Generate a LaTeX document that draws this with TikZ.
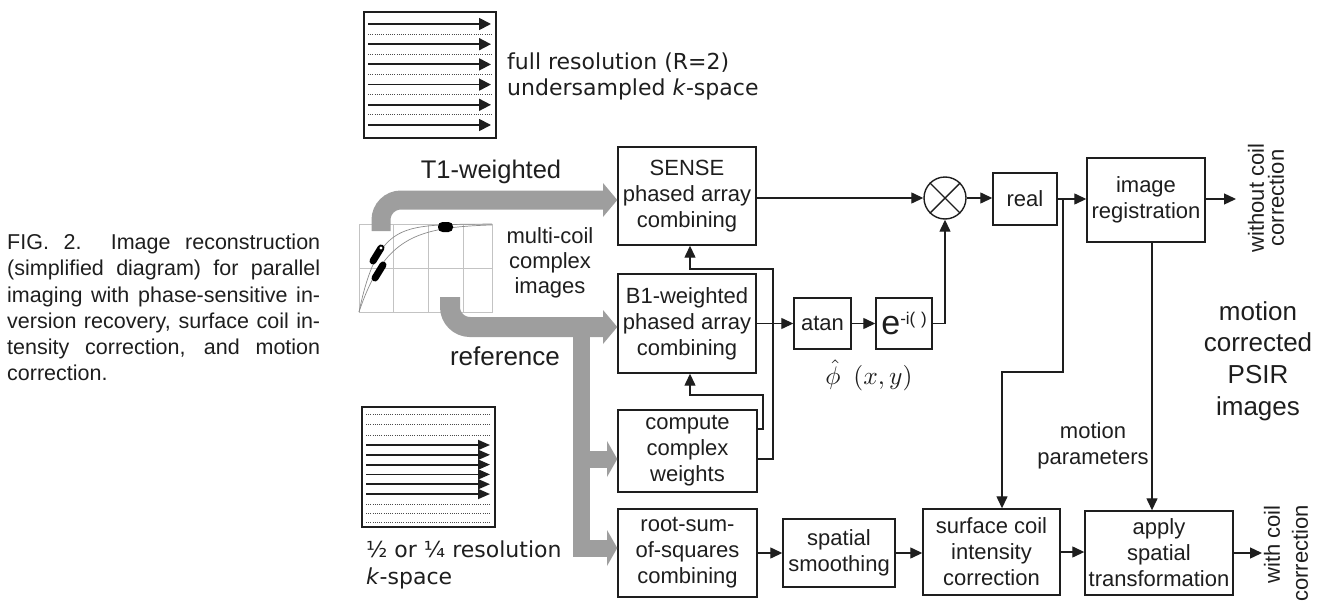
\documentclass[tikz,border=0pt]{standalone}
\usepackage{graphicx}
\usepackage{fontspec}
\setmainfont{Liberation Sans}
\newfontfamily\vfont{DejaVu Sans}
\usetikzlibrary{arrows.meta}
\definecolor{arrgray}{RGB}{158,158,158}
\definecolor{gridgray}{RGB}{195,195,195}
\definecolor{ink}{RGB}{30,30,30}
\begin{document}
\begin{tikzpicture}[x=1pt,y=-1pt,
  box/.style={draw=ink, line width=1.4pt, align=center, inner sep=0pt, text=ink, font=\fontsize{22}{26}\selectfont},
  conn/.style={draw=ink, line width=1.3pt, -{Triangle[length=12pt,width=11pt]}},
  lbl/.style={align=center, inner sep=0pt, text=ink, font=\fontsize{22}{25}\selectfont},
  kbox/.style={draw=ink, line width=1.8pt},
  karrow/.style={draw=ink, line width=1.8pt, -{Triangle[length=12pt,width=12pt]}},
  kdot/.style={draw=ink!80, line width=0.9pt, dash pattern=on 0.9pt off 1.3pt},
  grey/.style={draw=arrgray},
  greyhead/.style={fill=arrgray},
  capl/.style={anchor=base west, inner sep=0pt, text=ink, font=\fontsize{21.5}{26}\selectfont},
]
\useasboundingbox (0,0) rectangle (1331,602);

% caption
\node[capl] (cap1) at (7,249) {\makebox[313pt][s]{FIG. 2.\ \ Image reconstruction}};
\node[capl] (cap2) at (7,275) {\makebox[313pt][s]{(simplified diagram) for parallel}};
\node[capl] (cap3) at (7,302) {\makebox[313pt][s]{imaging with phase-sensitive in-}};
\node[capl] (cap4) at (7,328) {\makebox[313pt][s]{version recovery, surface coil in-}};
\node[capl] (cap5) at (7,354) {\makebox[313pt][s]{tensity correction, and motion}};
\node[capl] (cap6) at (7,380) {correction.};

% top k-space
\draw[kbox] (364,12) rectangle (496,138);
\foreach \k in {0,...,5} {
  \draw[karrow] (368,{24+20.2*\k}) -- (491,{24+20.2*\k});
}
\foreach \k in {0,...,4} {
  \draw[kdot] (368,{34.1+20.2*\k}) -- (492,{34.1+20.2*\k});
}
\node[anchor=west, align=left, inner sep=0pt, text=ink, font=\vfont\fontsize{22}{26}\selectfont] (kfull) at (507,76)
  {full resolution (R=2)\\undersampled \textit{k}-space};

% bottom k-space
\draw[kbox] (362,407) rectangle (495,527);
\foreach \yy in {414,424.5,435,504,513,522} {
  \draw[kdot] (366,\yy) -- (491,\yy);
}
\foreach \k in {0,...,5} {
  \draw[karrow, -{Triangle[length=12pt,width=10pt]}] (366,{445+9.8*\k}) -- (490,{445+9.8*\k});
}
\node[anchor=west, align=left, inner sep=0pt, text=ink, font=\vfont\fontsize{22}{27}\selectfont] (khalf) at (366,565)
  {½ or ¼ resolution\\\textit{k}-space};

% chart
\draw[gridgray, line width=0.8pt] (359,224) rectangle (492,312);
\foreach \xx in {393,428,463} { \draw[gridgray, line width=0.8pt] (\xx,224) -- (\xx,312); }
\draw[gridgray, line width=0.8pt] (359,268) -- (492,268);
\draw[black!45, line width=0.7pt] plot[domain=359:492, samples=70] (\x,{312-88*(1-exp(-(\x-359)/18.2))});
\draw[black!45, line width=0.7pt] plot[domain=359:492, samples=70] (\x,{312-88*(1-exp(-(\x-359)/29.3))});

% boxes
\node[box, minimum width=138pt, minimum height=98pt] (sense) at (687,196) {SENSE\\phased array\\combining};
\node[box, minimum width=138pt, minimum height=99pt] (b1) at (687,323.5) {B1-weighted\\phased array\\combining};
\node[box, minimum width=139pt, minimum height=82pt] (comp) at (687.5,451) {compute\\complex\\weights};
\node[box, minimum width=139pt, minimum height=88pt] (rss) at (687.5,553) {root-sum-\\of-squares\\combining};
\node[box, minimum width=112pt, minimum height=68pt] (smooth) at (839,553) {spatial\\smoothing};
\node[box, minimum width=137pt, minimum height=86pt] (surf) at (991.5,552) {surface coil\\intensity\\correction};
\node[box, minimum width=148pt, minimum height=84pt] (apply) at (1159,553) {apply\\spatial\\transformation};
\node[box, minimum width=64pt, minimum height=52pt] (real) at (1025,199) {real};
\node[box, minimum width=118pt, minimum height=84pt] (reg) at (1146,200) {image\\registration};
\node[box, minimum width=57pt, minimum height=51pt] (atan) at (822.5,323.5) {atan};
\node[box, minimum width=56pt, minimum height=51pt] (expo) at (904,323.5)
  {{\fontsize{34}{34}\selectfont e}\raisebox{10pt}{\fontsize{17}{17}\selectfont -i(\,\,)}};
\node[draw=ink, circle, line width=1.4pt, minimum size=42pt, inner sep=0pt] (mult) at (945,198) {};
\draw[ink, line width=1.4pt] (mult.north west) -- (mult.south east) (mult.north east) -- (mult.south west);

% gray thick arrows
\draw[grey, line width=19pt, rounded corners=20pt] (381,231) -- (381,200) -- (604,200);
\fill[greyhead] (603,183) -- (sense.west |- 0,200) -- (603,217) -- cycle;
\draw[grey, line width=20pt, rounded corners=20pt] (450,297) -- (450,327) -- (604,327);
\fill[greyhead] (603,310) -- (b1.west |- 0,327) -- (603,344) -- cycle;
\draw[grey, line width=17pt] (581,327) -- (581,548) -- (608,548);
\draw[grey, line width=17pt] (581,459) -- (608,459);
\fill[greyhead] (607,441) -- (comp.west |- 0,459) -- (607,477) -- cycle;
\fill[greyhead] (607,530) -- (rss.west |- 0,548) -- (607,566) -- cycle;

% blobs
\fill[black, rounded corners=4.5pt] (438,222) rectangle (453,232);
\draw[black, line width=7pt, line cap=round] (373,261) -- (381,248);
\fill[white] (381,248) circle (1.6pt);
\draw[black, line width=7pt, line cap=round] (375,278) -- (383,265);

% labels
\node[lbl, font=\fontsize{25.5}{28}\selectfont] (t1) at (491,172) {T1-weighted};
\node[lbl] (mc) at (550,263) {multi-coil\\complex\\images};
\node[lbl, font=\fontsize{26}{28}\selectfont] (refl) at (505,356) {reference};

\node[inner sep=0pt, text=ink] (phi) at (869,375) {\scalebox{2.55}{$\hat{\phi}$\hspace{5pt}$(x, y)$}};

% connectors
\draw[conn] (sense.east |- mult) -- (mult.west);
\draw[conn] (mult.east) -- (real.west |- mult);
\draw[conn] (real.east) -- (reg.west |- real.east);
\coordinate (wo) at (1236,199);
\draw[conn] (reg.east |- real.east) -- (wo);
\draw[conn] (b1.east) -- (atan.west);
\draw[conn] (atan.east) -- (expo.west);
\draw[conn] (expo.east) -| (mult.south);
\draw[conn] (comp.east |- 0,459) -| (773,269) -| ([xshift=3pt]sense.south);
\draw[conn] (comp.east |- 0,429) -| (763,395) -| ([xshift=3pt]b1.south);
\draw[conn] (rss.east) -- (smooth.west);
\draw[conn] (smooth.east) -- (surf.west |- smooth.east);
\draw[conn] (surf.east) -- (apply.west |- surf.east);
\coordinate (wc) at (1262,553);
\draw[conn] (apply.east |- wc) -- (wc);
\coordinate (br) at (1063,199);
\draw[conn] (br) -- (1063,372) -| (surf.north -| 1002,0);
\draw[conn] (reg.south -| 1152,0) -- (apply.north -| 1152,0);

% right labels
\node[lbl, rotate=90, font=\fontsize{22}{20}\selectfont] (wol) at (1266,198) {without coil\\correction};
\node[lbl, rotate=90, anchor=east, align=right, font=\fontsize{22}{28}\selectfont] (wcl) at (1286,505) {with coil\\correction};
\node[lbl, font=\fontsize{26}{31.6}\selectfont] (mcp) at (1258,361) {motion\\corrected\\PSIR\\images};
\node[lbl, font=\fontsize{22}{26}\selectfont] (mpar) at (1093,446) {motion\\parameters};
\end{tikzpicture}
\end{document}
